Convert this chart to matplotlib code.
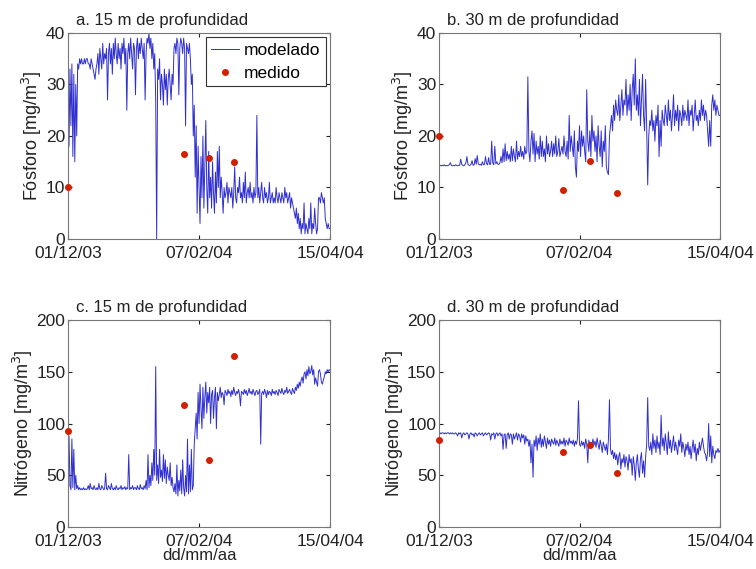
import numpy as np
import pandas as pd
import matplotlib
matplotlib.use("Agg")
import matplotlib.pyplot as plt

plt.rcParams["font.family"] = ["Liberation Sans", "DejaVu Sans"]

# model output every 12 h, 01/12/2003 .. 15/04/2004
fechas = pd.date_range("2003-12-01", "2004-04-15", freq="12h")
fechas_medidas = pd.to_datetime(["2003-12-01", "2004-01-30",
                                 "2004-02-12", "2004-02-25"])
ticks = pd.to_datetime(["2003-12-01", "2004-02-07", "2004-04-15"])
tick_labels = ["01/12/03", "07/02/04", "15/04/04"]

fosforo_15 = [
    30, 18, 33, 22, 34, 16, 32, 15, 30, 20,
    34, 33, 35, 34, 35, 34, 34, 35, 34, 35,
    35, 34, 34, 33, 35, 34, 33, 32, 31, 33,
    34, 36, 32, 37, 35, 33, 38, 34, 36, 35,
    37, 27, 36, 38, 34, 37, 32, 38, 35, 39,
    36, 34, 38, 35, 37, 33, 38, 36, 39, 34,
    37, 25, 36, 38, 35, 39, 36, 33, 38, 37,
    28, 37, 39, 35, 38, 36, 39, 37, 35, 38,
    27, 36, 39, 38, 40, 37, 39, 35, 38, 33,
    36, 27, 0, 33, 31, 35, 27, 32, 30, 26,
    33, 29, 32, 26, 31, 33, 30, 27, 32, 30,
    37, 38, 36, 39, 38, 28, 37, 39, 38, 36,
    39, 37, 22, 38, 37, 36, 38, 35, 30, 32,
    20, 26, 12, 22, 5, 18, 10, 3, 16, 8,
    20, 6, 14, 23, 10, 5, 17, 8, 12, 6,
    15, 9, 5, 13, 7, 17, 10, 18, 8, 12,
    9, 5, 10, 8, 9, 11, 7, 10, 9, 8,
    10, 6, 9, 14, 8, 7, 10, 9, 12, 8,
    9, 7, 11, 8, 13, 7, 9, 10, 8, 11,
    8, 9, 7, 10, 8, 9, 24, 8, 10, 7,
    9, 11, 8, 7, 10, 8, 9, 7, 8, 11,
    7, 8, 9, 7, 8, 7, 10, 8, 7, 9,
    8, 7, 9, 8, 7, 10, 8, 9, 7, 8,
    9, 6, 8, 7, 6, 5, 4, 6, 3, 5,
    2, 4, 1, 3, 2, 7, 1, 3, 2, 1,
    4, 2, 7, 1, 3, 2, 6, 3, 1, 2,
    8, 8, 7, 9, 8, 7, 8, 4, 3, 2,
    3, 2, 2]

fosforo_30 = [
    14.2, 14.3, 14.2, 14.3, 14.2, 14.4, 14.2, 14.3, 14.2, 14.3,
    14.4, 14.8, 14.3, 14.2, 14.3, 14.2, 14.4, 14.3, 14.2, 14.3,
    14.3, 15.5, 14.5, 14.3, 14.2, 14.4, 14.8, 16, 14.5, 14.3,
    14.3, 14.5, 15.2, 14.3, 14.4, 15.6, 14.5, 16.2, 14.6, 14.4,
    14.5, 14.3, 15, 14.4, 14.5, 16, 14.6, 14.4, 15.8, 14.5,
    14.5, 19, 14.8, 14.4, 18, 14.6, 15, 14.5, 14.5, 14.8,
    16, 14.8, 17.5, 15, 18.5, 15.2, 17, 15.5, 16.5, 15,
    18, 15.2, 17.5, 16, 15, 19, 15.5, 17, 16, 18,
    16, 17, 15.5, 18, 16.5, 17, 31.5, 17, 15, 19,
    21, 16.5, 20.5, 15, 19, 16.5, 18, 15.5, 20, 16,
    19, 16, 17.5, 15, 20, 16.5, 18.5, 16, 17, 19,
    16, 18.5, 16.5, 20, 16, 17, 19.5, 16, 17, 18,
    16.5, 20, 17, 16, 19, 15.5, 24, 17, 20, 18,
    16, 21, 14, 12, 19, 17, 22, 16, 21, 18,
    20, 17, 15, 29, 19, 17, 21, 16, 24, 19,
    21, 17, 20, 15, 22, 18, 16, 21, 14, 19,
    17, 22, 14, 13, 12.5, 20, 22, 24, 21, 26,
    23, 27, 25, 24, 28, 23, 26, 29, 24, 27,
    26, 31, 24, 28, 25, 30, 23, 29, 32, 26,
    35, 25, 28, 24, 31, 22, 27, 32, 24, 21,
    31, 22, 10.5, 20, 23, 22, 25, 21, 23, 19,
    24, 22, 26, 16, 23, 18, 25, 23, 22, 26,
    24, 22, 27, 23, 25, 21, 24, 28, 22, 25,
    23, 26, 21, 25, 24, 22, 26, 23, 25, 24,
    23, 27, 22, 25, 24, 26, 21, 24, 27, 23,
    24, 22, 25, 23, 27, 24, 26, 23, 25, 24,
    21, 18, 23, 18, 26, 28, 25, 27, 24, 26,
    25, 24, 24]

nitrogeno_15 = [
    45, 88, 40, 36, 85, 38, 75, 36, 50, 37,
    40, 36, 38, 36, 37, 36, 38, 36, 37, 36,
    37, 40, 36, 42, 37, 38, 36, 40, 37, 36,
    38, 36, 42, 37, 36, 40, 38, 36, 37, 52,
    37, 36, 40, 38, 36, 42, 37, 36, 38, 36,
    40, 37, 36, 38, 37, 40, 36, 38, 37, 39,
    36, 38, 37, 70, 36, 38, 37, 40, 36, 38,
    38, 36, 40, 37, 36, 41, 37, 38, 36, 40,
    37, 45, 36, 70, 38, 50, 40, 62, 45, 75,
    50, 155, 45, 60, 42, 75, 48, 55, 44, 70,
    47, 65, 42, 58, 50, 45, 62, 40, 48, 38,
    34, 42, 32, 60, 30, 45, 35, 55, 32, 65,
    38, 30, 50, 34, 85, 32, 60, 34, 75, 36,
    40, 80, 95, 110, 85, 130, 100, 138, 115, 95,
    135, 105, 125, 140, 110, 130, 120, 135, 100, 128,
    132, 105, 125, 135, 95, 130, 122, 128, 135, 125,
    130, 128, 118, 132, 130, 127, 133, 129, 131, 126,
    132, 128, 135, 130, 127, 131, 129, 133, 128, 117,
    131, 130, 128, 133, 129, 132, 127, 130, 134, 129,
    131, 128, 133, 130, 127, 131, 132, 128, 130, 133,
    80, 129, 131, 128, 133, 130, 125, 132, 128, 131,
    130, 127, 133, 129, 131, 128, 132, 130, 127, 133,
    131, 129, 134, 130, 128, 132, 130, 135, 129, 131,
    133, 130, 128, 134, 131, 129, 135, 132, 138, 134,
    140, 136, 142, 145, 139, 148, 150, 143, 152, 146,
    155, 148, 150, 156, 147, 152, 138, 144, 140, 136,
    150, 152, 148, 140, 138, 142, 145, 150, 148, 152,
    150, 152, 151]

nitrogeno_30 = [
    91, 91, 90, 91, 91, 90, 91, 90, 91, 91,
    90, 91, 90, 91, 90, 90, 91, 90, 88, 91,
    90, 91, 86, 90, 91, 89, 90, 91, 90, 85,
    90, 91, 89, 90, 87, 91, 90, 88, 90, 91,
    89, 90, 91, 88, 90, 91, 89, 90, 91, 90,
    84, 90, 89, 91, 85, 90, 91, 88, 90, 91,
    88, 90, 75, 89, 90, 76, 89, 91, 85, 90,
    89, 80, 90, 85, 88, 91, 84, 90, 88, 82,
    90, 86, 89, 80, 88, 83, 85, 78, 84, 62,
    80, 48, 84, 78, 88, 74, 86, 80, 90, 77,
    85, 78, 88, 82, 76, 86, 80, 84, 78, 85,
    82, 80, 86, 79, 84, 81, 78, 85, 80, 83,
    80, 86, 78, 84, 82, 79, 86, 81, 83, 80,
    84, 78, 83, 80, 85, 122, 80, 78, 83, 79,
    82, 76, 85, 80, 62, 84, 78, 82, 80, 85,
    79, 83, 77, 86, 80, 75, 84, 79, 72, 82,
    78, 74, 80, 70, 85, 123, 75, 70, 74, 66,
    72, 65, 70, 60, 68, 72, 56, 66, 62, 70,
    58, 68, 64, 55, 70, 62, 66, 50, 68, 60,
    45, 62, 70, 56, 48, 66, 72, 52, 64, 48,
    68, 80, 125, 78, 74, 82, 70, 90, 76, 84,
    72, 88, 76, 82, 70, 108, 78, 86, 74, 90,
    80, 70, 92, 76, 84, 72, 80, 88, 74, 82,
    76, 70, 84, 78, 90, 72, 82, 76, 68, 80,
    74, 82, 70, 78, 66, 76, 84, 72, 80, 64,
    76, 70, 82, 74, 80, 86, 78, 72, 70, 64,
    72, 100, 68, 88, 62, 78, 70, 66, 74, 72,
    76, 72, 74]

medido_fosforo_15 = [10, 16.5, 15.7, 15]
medido_fosforo_30 = [20, 9.6, 15.2, 9]
medido_nitrogeno_15 = [93, 118, 65, 165]
medido_nitrogeno_30 = [84, 72, 79, 52]

paneles = [
    ("a. 15 m de profundidad", fosforo_15, medido_fosforo_15,
     "Fósforo [mg/m$^3$]", 40, [0.090, 0.580, 0.3466, 0.362]),
    ("b. 30 m de profundidad", fosforo_30, medido_fosforo_30,
     "Fósforo [mg/m$^3$]", 40, [0.5807, 0.580, 0.3717, 0.362]),
    ("c. 15 m de profundidad", nitrogeno_15, medido_nitrogeno_15,
     "Nitrógeno [mg/m$^3$]", 200, [0.090, 0.0738, 0.3466, 0.3638]),
    ("d. 30 m de profundidad", nitrogeno_30, medido_nitrogeno_30,
     "Nitrógeno [mg/m$^3$]", 200, [0.5807, 0.0738, 0.3717, 0.3638]),
]


def main():
    fig = plt.figure(figsize=(7.56, 5.69), dpi=100)
    for i, (titulo, modelo, medido, ylab, ymax, pos) in enumerate(paneles):
        assert len(modelo) == len(fechas)
        ax = fig.add_axes(pos)
        ax.plot(fechas, modelo, color="#3030d0", lw=0.7, label="modelado")
        ax.plot(fechas_medidas, medido, "o", color="#d02000", ms=4,
                label="medido", clip_on=False, zorder=5)
        ax.set_xlim(ticks[0], ticks[-1])
        ax.set_ylim(0, ymax)
        ax.set_yticks(np.linspace(0, ymax, 5))
        ax.set_xticks(ticks)
        ax.set_xticklabels(tick_labels)
        ax.tick_params(direction="in", top=True, right=True, length=3,
                       labelsize=12.5, colors="#222222")
        ax.tick_params(axis="x", pad=5)
        ax.tick_params(axis="y", pad=2)
        for sp in ax.spines.values():
            sp.set_color("#777777")
            sp.set_linewidth(0.8)
        ax.set_ylabel(ylab, fontsize=13, color="#222222", labelpad=1)
        ax.text(0.03, 1.025, titulo, transform=ax.transAxes, fontsize=12,
                color="#222222", ha="left", va="bottom")
        if i >= 2:
            ax.set_xlabel("dd/mm/aa", fontsize=12, color="#222222",
                          labelpad=-1)
        if i == 0:
            leg = ax.legend(loc="upper right", fontsize=12.5, fancybox=False,
                            framealpha=1, edgecolor="#333333",
                            handlelength=1.6, handletextpad=0.3,
                            borderaxespad=0.25, labelspacing=0.45,
                            borderpad=0.3)
            leg.get_frame().set_linewidth(0.8)
    fig.savefig("out.png", dpi=100)


if __name__ == "__main__":
    main()
